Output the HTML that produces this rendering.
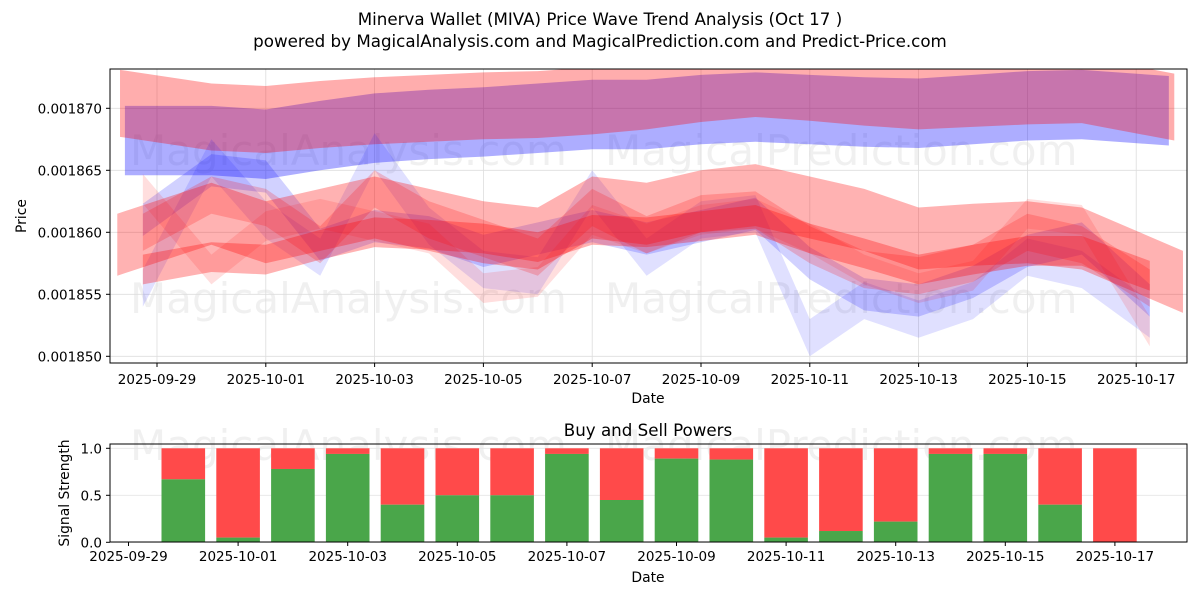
<!DOCTYPE html>
<html><head><meta charset="utf-8"><style>
body{margin:0;background:#fff;font-family:"Liberation Sans","DejaVu Sans",sans-serif}
svg text{font-family:"DejaVu Sans","Liberation Sans",sans-serif}
</style></head><body>
<svg id="c" width="1200" height="600" xmlns="http://www.w3.org/2000/svg">
<rect width="1200" height="600" fill="#fff"/>
<text x="600" y="25" text-anchor="middle" font-size="16.7">Minerva Wallet (MIVA) Price Wave Trend Analysis (Oct 17 )</text>
<text x="600" y="47" text-anchor="middle" font-size="16.7">powered by MagicalAnalysis.com and MagicalPrediction.com and Predict-Price.com</text>
<defs><clipPath id="plotClip"><rect x="110" y="69" width="1077" height="294"/></clipPath></defs>
<g id="topPanel"></g>
<g id="botPanel"></g>
</svg>
<script>
const dateLabels=["2025-09-29","2025-10-01","2025-10-03","2025-10-05","2025-10-07","2025-10-09","2025-10-11","2025-10-13","2025-10-15","2025-10-17"];
const priceTicks=[0.001850,0.001855,0.001860,0.001865,0.001870];
const redDays=[-0.68,1,2,3,4,5,6,7,8,9,10,11,12,13,14,15,16,17,18.7];
const upperRed=[0.0018704,0.0018693,0.0018691,0.0018695,0.0018698,0.00187,0.0018702,0.0018703,0.0018706,0.001871,0.0018716,0.001872,0.0018717,0.0018713,0.001871,0.0018712,0.0018714,0.0018715,0.0018701];
const blueDays=[-0.59,1,2,3,4,5,6,7,8,9,10,11,12,13,14,15,16,17,18.6];
const upperBlue=[0.0018674,0.0018674,0.0018671,0.0018678,0.0018684,0.0018687,0.0018689,0.0018692,0.0018695,0.0018695,0.0018699,0.0018701,0.0018699,0.0018697,0.0018696,0.0018699,0.0018702,0.0018703,0.0018698];
const wideDays=[-0.73,1,2,3,4,5,6,7,8,9,10,11,12,13,14,15,16,17,18.86];
const lowDays=[-0.26,1,2,3,4,5,6,7,8,9,10,11,12,13,14,15,16,17,18.25];
const wideRed=[0.001859,0.0018615,0.00186,0.001861,0.001862,0.001861,0.00186,0.0018595,0.001862,0.0018615,0.0018625,0.001863,0.001862,0.001861,0.0018595,0.0018598,0.00186,0.0018595,0.001856];
const narrowRed=[0.001857,0.001858,0.0018578,0.001859,0.00186,0.0018598,0.0018595,0.0018588,0.0018602,0.00186,0.0018605,0.001861,0.0018595,0.0018583,0.001857,0.0018578,0.0018585,0.0018585,0.0018565];
const zigRed=[0.00186,0.001863,0.001862,0.001859,0.0018635,0.001861,0.0018595,0.001858,0.001862,0.0018598,0.0018615,0.0018618,0.001859,0.001857,0.0018565,0.0018575,0.00186,0.001859,0.0018555];
const zigBlue=[0.0018555,0.001866,0.001861,0.001858,0.0018665,0.0018605,0.001857,0.0018565,0.0018635,0.001858,0.001861,0.0018615,0.0018515,0.0018545,0.001853,0.0018545,0.001858,0.001857,0.001853];
const midBlue=[0.001861,0.001865,0.0018645,0.001859,0.0018605,0.00186,0.0018585,0.0018595,0.0018605,0.0018595,0.0018605,0.0018615,0.0018575,0.001855,0.0018545,0.001856,0.0018585,0.0018595,0.0018545];
const lightRed=[0.0018635,0.001857,0.0018605,0.0018615,0.0018605,0.0018595,0.0018555,0.001856,0.001861,0.0018595,0.001861,0.0018615,0.0018595,0.001857,0.0018555,0.0018565,0.0018615,0.001861,0.001852];
const barDays=[1,2,3,4,5,6,7,8,9,10,11,12,13,14,15,16,17,18];
const buyVals=[0.67,0.05,0.78,0.94,0.40,0.50,0.50,0.94,0.45,0.89,0.88,0.05,0.12,0.22,0.94,0.94,0.40,0.0];
const sigTicks=[0.0,0.5,1.0];

const NS="http://www.w3.org/2000/svg";
function mk(p,t,a,txt){const e=document.createElementNS(NS,t);for(const k in a)e.setAttribute(k,a[k]);if(txt!==undefined)e.textContent=txt;p.appendChild(e);return e;}
const L=110,R=1187,T=69,B=363;
const xT=d=>157+54.4*d;
const yT=v=>232.3-(v-0.00186)/0.000005*62;
const topG=document.getElementById('topPanel');
[[130,165,'MagicalAnalysis.com'],[605,165,'MagicalPrediction.com'],[130,313,'MagicalAnalysis.com'],[605,313,'MagicalPrediction.com'],[130,460,'MagicalAnalysis.com'],[605,460,'MagicalPrediction.com']].forEach(w=>{
 const t=mk(topG,'text',{x:w[0],y:w[1],'font-size':42,fill:'#000','fill-opacity':0.06},w[2]);
 
 
});
for(let i=0;i<dateLabels.length;i++){const x=xT(2*i);const g=mk(topG,'line',{x1:x,x2:x,y1:T,y2:B,stroke:'#ddd','stroke-width':0.8});
 
 }
priceTicks.forEach(v=>{const g=mk(topG,'line',{x1:L,x2:R,y1:yT(v),y2:yT(v),stroke:'#ddd','stroke-width':0.8});
 
 });
const bandG=mk(topG,'g',{'clip-path':'url(#plotClip)'});


function band(days,vals,hw,color,op,name){
 let pts=[];for(let i=0;i<days.length;i++)pts.push(xT(days[i])+','+yT(vals[i]+hw));
 for(let i=days.length-1;i>=0;i--)pts.push(xT(days[i])+','+yT(vals[i]-hw));
 const p=mk(bandG,'polygon',{points:pts.join(' '),fill:color,'fill-opacity':op});
 
 
}
band(blueDays,upperBlue,0.0000028,'#0000ff',0.32,'upper-blue-band');
band(redDays,upperRed,0.0000027,'#ff0000',0.32,'upper-red-band');
band(lowDays,zigBlue,0.0000015,'#0000ff',0.12,'blue-zigzag-band');
band(lowDays,midBlue,0.0000013,'#0000ff',0.18,'blue-mid-band');
band(wideDays,wideRed,0.0000025,'#ff0000',0.3,'red-wide-band');
band(lowDays,lightRed,0.0000012,'#ff0000',0.13,'red-light-band');
band(lowDays,zigRed,0.0000015,'#ff0000',0.2,'red-zigzag-band');
band(lowDays,narrowRed,0.0000012,'#ff0000',0.3,'red-narrow-band');
const ax=mk(topG,'rect',{x:L,y:T,width:R-L,height:B-T,fill:'none',stroke:'#000','stroke-width':1});


dateLabels.forEach((s,i)=>{const x=xT(2*i);mk(topG,'line',{x1:x,x2:x,y1:B,y2:B+4,stroke:'#000'});
 const t=mk(topG,'text',{x:x,y:B+21,'text-anchor':'middle','font-size':13.5},s);
 
 });
priceTicks.forEach(v=>{const y=yT(v);mk(topG,'line',{x1:L-4,x2:L,y1:y,y2:y,stroke:'#000'});
 const t=mk(topG,'text',{x:L-8,y:y+5,'text-anchor':'end','font-size':13.5},v.toFixed(6));
 
 });
mk(topG,'text',{x:648,y:403,'text-anchor':'middle','font-size':13.9,},'Date');
mk(topG,'text',{x:26,y:216,'text-anchor':'middle','font-size':13.9,transform:'rotate(-90 26 216)',},'Price');

const botG=document.getElementById('botPanel');
const BL=110,BR=1187,BT=444,BB=542;
const xB=d=>128.5+54.8*d;
const yB=v=>542.3-v*94;
mk(botG,'text',{x:648,y:436,'text-anchor':'middle','font-size':16.7,},'Buy and Sell Powers');
sigTicks.forEach(v=>{const g=mk(botG,'line',{x1:BL,x2:BR,y1:yB(v),y2:yB(v),stroke:'#e5e5e5','stroke-width':0.8});
 
 });
barDays.forEach((d,i)=>{const x=xB(d)-21.8,w=43.6;
 const r=mk(botG,'rect',{x:x,y:yB(1),width:w,height:yB(buyVals[i])-yB(1),fill:'#ff4a4a'});
 
 
 const g=mk(botG,'rect',{x:x,y:yB(buyVals[i]),width:w,height:yB(0)-yB(buyVals[i]),fill:'#4aa64a'});
 
 
});
const bx=mk(botG,'rect',{x:BL,y:BT,width:BR-BL,height:BB-BT,fill:'none',stroke:'#000','stroke-width':1});


dateLabels.forEach((s,i)=>{const x=xB(2*i);mk(botG,'line',{x1:x,x2:x,y1:BB,y2:BB+4,stroke:'#000'});
 const t=mk(botG,'text',{x:x,y:BB+19,'text-anchor':'middle','font-size':13.5},s);
 
 });
sigTicks.forEach(v=>{const y=yB(v);mk(botG,'line',{x1:BL-4,x2:BL,y1:y,y2:y,stroke:'#000'});
 const t=mk(botG,'text',{x:BL-8,y:y+5,'text-anchor':'end','font-size':13.5},v.toFixed(1));
 
 });
mk(botG,'text',{x:648,y:582,'text-anchor':'middle','font-size':13.9,},'Date');
mk(botG,'text',{x:69,y:493,'text-anchor':'middle','font-size':13.9,transform:'rotate(-90 69 493)',},'Signal Strength');
</script>
</body></html>
